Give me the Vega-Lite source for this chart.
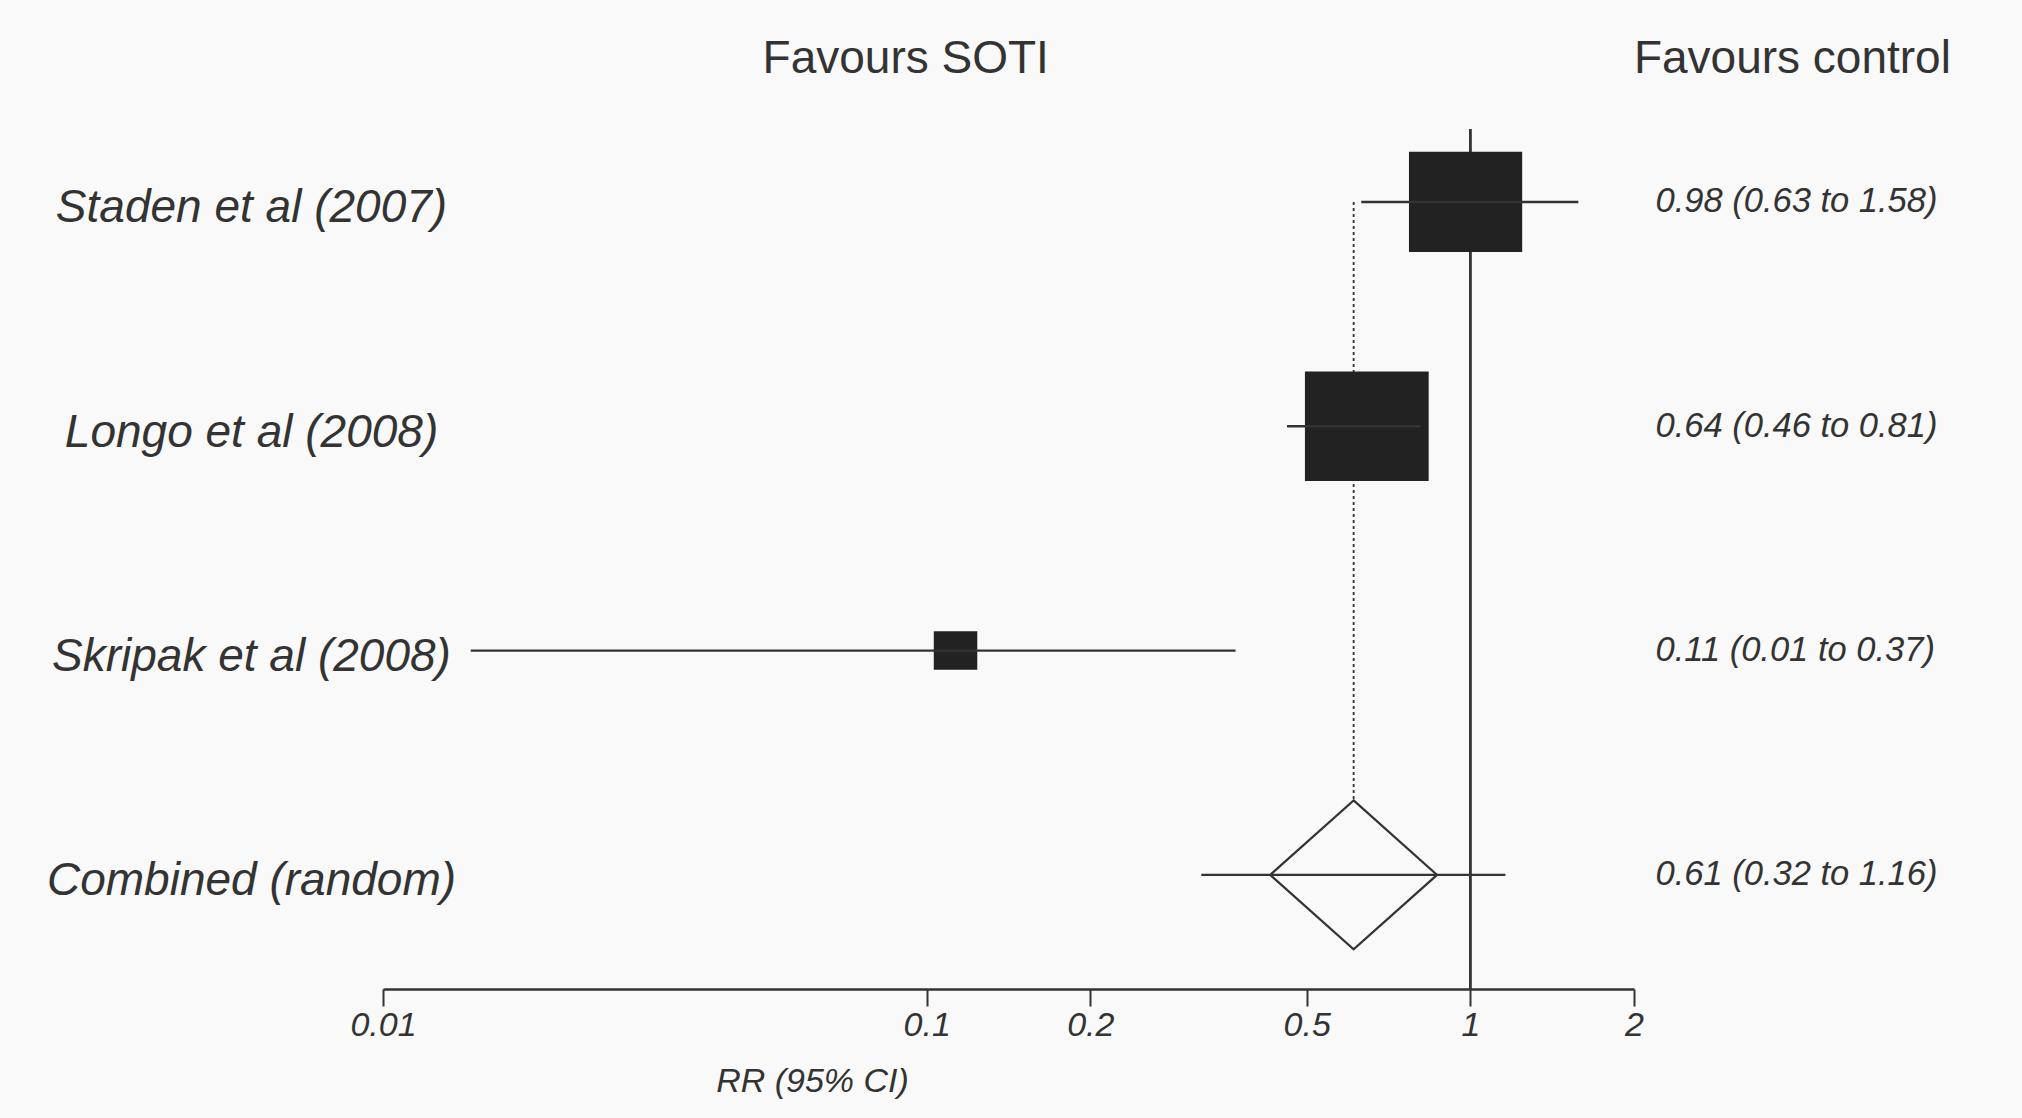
{
  "$schema": "https://vega.github.io/schema/vega-lite/v6.json",
  "width": 1251,
  "height": 860,
  "autosize": {"type": "none"},
  "padding": {"left": 383, "top": 129, "right": 388, "bottom": 129},
  "background": "#f9f9f9",
  "config": {
    "view": {"stroke": null},
    "font": "Liberation Sans",
    "axis": {"labelColor": "#333333", "titleColor": "#333333", "grid": false, "labelFont": "Liberation Sans", "titleFont": "Liberation Sans"}
  },
  "data": {
    "values": [
      {"study": "Staden et al (2007)", "type": "study", "order": 1, "est": 0.98, "lo": 0.63, "hi": 1.58, "weight": 42.7, "ci_text": "0.98 (0.63 to 1.58)"},
      {"study": "Longo et al (2008)", "type": "study", "order": 2, "est": 0.645, "lo": 0.46, "hi": 0.81, "weight": 51.0, "ci_text": "0.64 (0.46 to 0.81)"},
      {"study": "Skripak et al (2008)", "type": "study", "order": 3, "est": 0.113, "lo": 0.0145, "hi": 0.37, "weight": 6.3, "ci_text": "0.11 (0.01 to 0.37)"},
      {"study": "Combined (random)", "type": "combined", "order": 4, "est": 0.61, "lo": 0.32, "hi": 1.16, "ci_text": "0.61 (0.32 to 1.16)"}
    ]
  },
  "resolve": {"scale": {"y": "independent"}, "axis": {"x": "independent", "y": "independent"}},
  "layer": [
    {
      "layer": [
        {
          "mark": {"type": "rule", "color": "#333333", "strokeWidth": 2},
          "encoding": {
            "x": {"datum": 1, "type": "quantitative",
              "scale": {"type": "log", "domain": [0.01, 2], "nice": false},
              "axis": {"orient": "bottom", "values": [0.01, 0.1, 0.2, 0.5, 1, 2], "format": "~g", "title": "RR (95% CI)", "titleX": 429, "titleY": 92, "titleAlign": "center", "titleBaseline": "middle", "titleFontSize": 34, "titleFontStyle": "italic", "titleFontWeight": "normal", "labelFontSize": 34, "labelFontStyle": "italic", "labelPadding": 19, "labelBaseline": "middle", "labelFlush": false, "labelOverlap": false, "labelBound": false, "domain": true, "domainColor": "#333333", "domainWidth": 2.5, "ticks": true, "tickSize": 17, "tickWidth": 2, "tickColor": "#333333", "grid": false}
            }
          }
        },
        {
          "transform": [{"filter": "datum.type === 'combined'"}],
          "mark": {"type": "rule", "color": "#333333", "strokeWidth": 1.8, "strokeDash": [3, 3]},
          "encoding": {
            "x": {"field": "est", "type": "quantitative",
              "scale": {"type": "log", "domain": [0.01, 2], "nice": false},
              "axis": {"orient": "bottom", "values": [0.01, 0.1, 0.2, 0.5, 1, 2], "format": "~g", "title": "RR (95% CI)", "titleX": 429, "titleY": 92, "titleAlign": "center", "titleBaseline": "middle", "titleFontSize": 34, "titleFontStyle": "italic", "titleFontWeight": "normal", "labelFontSize": 34, "labelFontStyle": "italic", "labelPadding": 19, "labelBaseline": "middle", "labelFlush": false, "labelOverlap": false, "labelBound": false, "domain": true, "domainColor": "#333333", "domainWidth": 2.5, "ticks": true, "tickSize": 17, "tickWidth": 2, "tickColor": "#333333", "grid": false}
            },
            "y": {"datum": "Staden et al (2007)", "type": "nominal",
              "scale": {"type": "point", "domain": ["Staden et al (2007)", "Longo et al (2008)", "Skripak et al (2008)", "Combined (random)"], "padding": 0.417, "align": 0.39},
              "axis": {"orient": "left", "title": null, "domain": false, "ticks": false, "tickSize": 0, "labelAlign": "center", "labelPadding": 132, "labelFontSize": 46, "labelFontStyle": "italic", "labelBaseline": "middle", "labelLimit": 0, "labelOffset": 6}
            },
            "y2": {"datum": "Combined (random)"}
          }
        },
        {
          "transform": [{"filter": "datum.type === 'combined'"}],
          "mark": {"type": "point", "shape": "M0,-1L1.12,0L0,1L-1.12,0Z", "size": 22201, "filled": true, "fill": "#f9f9f9", "stroke": "#333333", "strokeWidth": 2.2, "opacity": 1},
          "encoding": {
            "x": {"field": "est", "type": "quantitative",
              "scale": {"type": "log", "domain": [0.01, 2], "nice": false},
              "axis": {"orient": "bottom", "values": [0.01, 0.1, 0.2, 0.5, 1, 2], "format": "~g", "title": "RR (95% CI)", "titleX": 429, "titleY": 92, "titleAlign": "center", "titleBaseline": "middle", "titleFontSize": 34, "titleFontStyle": "italic", "titleFontWeight": "normal", "labelFontSize": 34, "labelFontStyle": "italic", "labelPadding": 19, "labelBaseline": "middle", "labelFlush": false, "labelOverlap": false, "labelBound": false, "domain": true, "domainColor": "#333333", "domainWidth": 2.5, "ticks": true, "tickSize": 17, "tickWidth": 2, "tickColor": "#333333", "grid": false}
            },
            "y": {"field": "study", "type": "nominal",
              "scale": {"type": "point", "domain": ["Staden et al (2007)", "Longo et al (2008)", "Skripak et al (2008)", "Combined (random)"], "padding": 0.417, "align": 0.39},
              "axis": {"orient": "left", "title": null, "domain": false, "ticks": false, "tickSize": 0, "labelAlign": "center", "labelPadding": 132, "labelFontSize": 46, "labelFontStyle": "italic", "labelBaseline": "middle", "labelLimit": 0, "labelOffset": 6}
            }
          }
        },
        {
          "transform": [{"filter": "datum.type === 'study'"}],
          "mark": {"type": "point", "shape": "M-1.13,-1L1.13,-1L1.13,1L-1.13,1Z", "filled": true, "color": "#222222", "opacity": 1, "strokeWidth": 0},
          "encoding": {
            "x": {"field": "est", "type": "quantitative",
              "scale": {"type": "log", "domain": [0.01, 2], "nice": false},
              "axis": {"orient": "bottom", "values": [0.01, 0.1, 0.2, 0.5, 1, 2], "format": "~g", "title": "RR (95% CI)", "titleX": 429, "titleY": 92, "titleAlign": "center", "titleBaseline": "middle", "titleFontSize": 34, "titleFontStyle": "italic", "titleFontWeight": "normal", "labelFontSize": 34, "labelFontStyle": "italic", "labelPadding": 19, "labelBaseline": "middle", "labelFlush": false, "labelOverlap": false, "labelBound": false, "domain": true, "domainColor": "#333333", "domainWidth": 2.5, "ticks": true, "tickSize": 17, "tickWidth": 2, "tickColor": "#333333", "grid": false}
            },
            "y": {"field": "study", "type": "nominal",
              "scale": {"type": "point", "domain": ["Staden et al (2007)", "Longo et al (2008)", "Skripak et al (2008)", "Combined (random)"], "padding": 0.417, "align": 0.39},
              "axis": {"orient": "left", "title": null, "domain": false, "ticks": false, "tickSize": 0, "labelAlign": "center", "labelPadding": 132, "labelFontSize": 46, "labelFontStyle": "italic", "labelBaseline": "middle", "labelLimit": 0, "labelOffset": 6}
            },
            "size": {"field": "weight", "type": "quantitative", "scale": {"type": "linear", "zero": true, "domain": [0, 100], "range": [0, 23510]}, "legend": null}
          }
        }
      ]
    },
    {
      "mark": {"type": "rule", "color": "#333333", "strokeWidth": 2.4},
      "encoding": {
        "x": {"field": "lo", "type": "quantitative",
          "scale": {"type": "log", "domain": [0.01, 2], "nice": false},
          "axis": {"orient": "top", "values": [0.0913, 1.995], "labelExpr": "datum.value < 1 ? 'Favours SOTI' : 'Favours control'", "labelAlign": {"condition": {"test": "datum.value > 1", "value": "left"}, "value": "center"}, "title": null, "domain": false, "ticks": false, "tickSize": 0, "labelFontSize": 46, "labelFontStyle": "normal", "labelPadding": 71, "labelBaseline": "middle", "labelFlush": false, "labelOverlap": false, "labelBound": false, "labelLimit": 0, "grid": false}
        },
        "x2": {"field": "hi"},
        "y": {"field": "ci_text", "type": "nominal",
          "sort": {"field": "order", "op": "min"},
          "scale": {"type": "point", "padding": 0.417, "align": 0.39},
          "axis": {"orient": "right", "title": null, "domain": false, "ticks": false, "tickSize": 0, "labelAlign": "left", "labelPadding": 21, "labelFontSize": 34.5, "labelFontStyle": "italic", "labelBaseline": "middle", "labelLimit": 0}
        }
      }
    }
  ]
}
